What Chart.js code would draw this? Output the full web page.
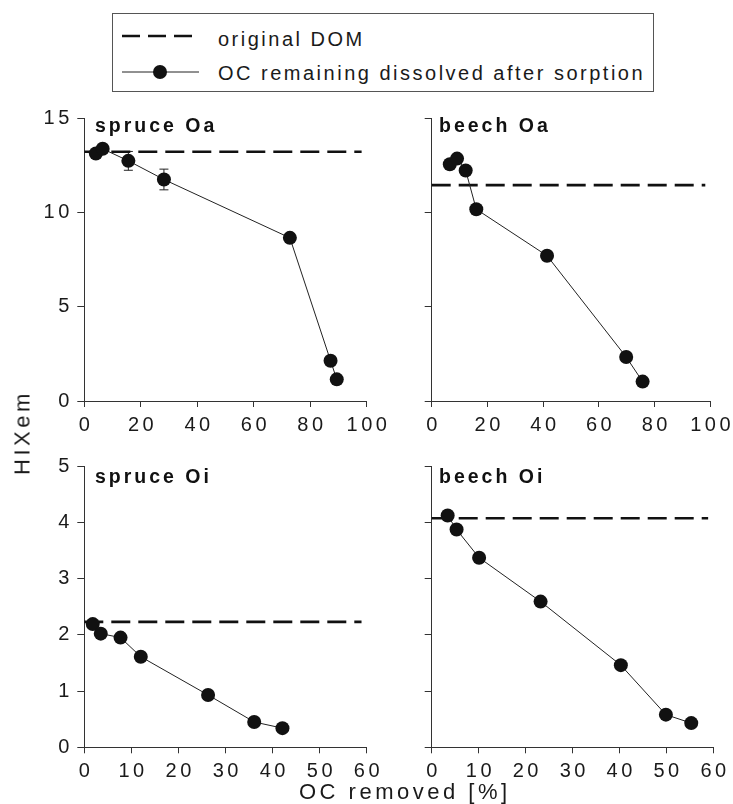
<!DOCTYPE html>
<html>
<head>
<meta charset="utf-8">
<script src="https://cdn.jsdelivr.net/npm/chart.js@4.4.1/dist/chart.umd.min.js"></script>
<style>
html,body{margin:0;padding:0;background:#fff;}
body{width:733px;height:804px;position:relative;overflow:hidden;font-family:"Liberation Sans",Arial,sans-serif;color:#1a1a1a;}
canvas.cv{position:absolute;}
.title{position:absolute;font-weight:bold;font-size:19.5px;letter-spacing:3px;line-height:1;white-space:nowrap;color:#111;}
.lbl{position:absolute;font-size:22px;letter-spacing:3.5px;line-height:1;white-space:nowrap;color:#1a1a1a;}
.legbox{position:absolute;left:112px;top:13px;width:542px;height:79px;border:1px solid #555;box-sizing:border-box;}
.legtxt{position:absolute;font-size:20px;letter-spacing:2.5px;line-height:1;white-space:nowrap;color:#1a1a1a;}
svg.leg{position:absolute;left:0;top:0;}
</style>
</head>
<body>
<div class="legbox"></div>
<svg class="leg" width="733" height="100">
  <line x1="122" y1="36" x2="192" y2="36" stroke="#111" stroke-width="2.6" stroke-dasharray="18 8"/>
  <line x1="122" y1="72" x2="199" y2="72" stroke="#222" stroke-width="1"/>
  <circle cx="160" cy="72" r="7" fill="#111"/>
</svg>
<div class="legtxt" style="left:218px;top:29px;">original DOM</div>
<div class="legtxt" style="left:218px;top:63px;">OC remaining dissolved after sorption</div>

<canvas class="cv" id="c1" width="395" height="340" style="left:0px;top:100px;"></canvas>
<canvas class="cv" id="c2" width="353" height="340" style="left:380px;top:100px;"></canvas>
<canvas class="cv" id="c3" width="395" height="340" style="left:0px;top:445px;"></canvas>
<canvas class="cv" id="c4" width="353" height="340" style="left:380px;top:445px;"></canvas>

<div class="title" style="left:95px;top:116px;">spruce Oa</div>
<div class="title" style="left:439px;top:116px;">beech Oa</div>
<div class="title" style="left:95px;top:467px;">spruce Oi</div>
<div class="title" style="left:439px;top:467px;">beech Oi</div>

<div class="lbl" style="left:299px;top:781px;">OC removed [%]</div>
<div class="lbl" style="left:0;top:0;transform-origin:0 0;transform:translate(11.5px,475px) rotate(-90deg);">HIXem</div>

<script>
// ---- data ----
const spruceOaX   = [4.1, 6.5, 15.6, 28.2, 72.8, 87.2, 89.4];
const spruceOaY   = [13.15, 13.4, 12.76, 11.77, 8.67, 2.14, 1.15];
const spruceOaErr = [0, 0, 0.5, 0.55, 0, 0, 0];
const spruceOaDOM = 13.24;

const beechOaX   = [6.5, 9.1, 12.2, 16.0, 41.4, 69.8, 75.7];
const beechOaY   = [12.58, 12.88, 12.25, 10.19, 7.72, 2.34, 1.03];
const beechOaDOM = 11.47;

const spruceOiX   = [1.8, 3.5, 7.7, 12.0, 26.3, 36.1, 42.1];
const spruceOiY   = [2.19, 2.02, 1.95, 1.61, 0.93, 0.45, 0.34];
const spruceOiDOM = 2.23;

const beechOiX   = [3.4, 5.3, 10.1, 23.2, 40.3, 49.9, 55.3];
const beechOiY   = [4.12, 3.87, 3.37, 2.59, 1.46, 0.58, 0.43];
const beechOiDOM = 4.07;

const oaXTicks = [0, 20, 40, 60, 80, 100];
const oiXTicks = [0, 10, 20, 30, 40, 50, 60];
const oaYTicks = [0, 5, 10, 15];
const oiYTicks = [0, 1, 2, 3, 4, 5];
const oaDomXRange = [0, 98.2];
const oiDomXRange = [0, 58.9];

// ---- plugins ----
const spacingPlugin = {
  id: 'spacing',
  beforeDraw(chart) { chart.ctx.letterSpacing = '3.5px'; }
};
const errorBars = {
  id: 'errorBars',
  beforeDatasetsDraw(chart, args, opts) {
    const errs = opts.errs;
    if (!errs) return;
    const ctx = chart.ctx, xs = chart.scales.x, ys = chart.scales.y;
    const pts = chart.data.datasets[0].data;
    ctx.save();
    ctx.strokeStyle = '#222';
    ctx.lineWidth = 1;
    pts.forEach((p, i) => {
      const e = errs[i];
      if (!e) return;
      const px = xs.getPixelForValue(p.x);
      const t = ys.getPixelForValue(p.y + e), b = ys.getPixelForValue(p.y - e);
      ctx.beginPath();
      ctx.moveTo(px, t); ctx.lineTo(px, b);
      ctx.moveTo(px - 4.5, t); ctx.lineTo(px + 4.5, t);
      ctx.moveTo(px - 4.5, b); ctx.lineTo(px + 4.5, b);
      ctx.stroke();
    });
    ctx.restore();
  }
};

function makePanel(id, p) {
  const pts = p.xs.map((x, i) => ({x: x, y: p.ys[i]}));
  const dom = p.domRange.map(x => ({x: x, y: p.dom}));
  new Chart(document.getElementById(id), {
    type: 'line',
    data: {
      datasets: [
        {data: pts, borderColor: '#222', borderWidth: 1, pointRadius: 7,
         pointBackgroundColor: '#111', pointBorderColor: '#111', pointBorderWidth: 0,
         order: 0, clip: false, tension: 0},
        {data: dom, borderColor: '#111', borderWidth: 2.6, borderDash: [19, 8],
         pointRadius: 0, order: 1, clip: false}
      ]
    },
    options: {
      responsive: false,
      animation: false,
      events: [],
      layout: {padding: {top: p.padTop, right: p.padRight, left: 0, bottom: 0}},
      plugins: {legend: {display: false}, tooltip: {enabled: false}, errorBars: {errs: p.errs}},
      scales: {
        x: {
          type: 'linear', min: 0, max: p.xTicks[p.xTicks.length - 1],
          afterBuildTicks: s => { s.ticks = p.xTicks.map(v => ({value: v})); },
          afterFit: s => { s.height = p.xAxisHeight; },
          grid: {drawOnChartArea: false, drawTicks: true, tickLength: 6, color: '#333', lineWidth: 1},
          border: {display: true, color: '#333', width: 1},
          ticks: {color: '#1a1a1a', font: {size: 20, family: '"Liberation Sans", Arial, sans-serif'},
                  padding: 6, maxRotation: 0, autoSkip: false, labelOffset: 1.75}
        },
        y: {
          type: 'linear', min: 0, max: p.yTicks[p.yTicks.length - 1],
          afterBuildTicks: s => { s.ticks = p.yTicks.map(v => ({value: v})); },
          afterFit: s => { s.width = p.yAxisWidth; },
          grid: {drawOnChartArea: false, drawTicks: true, tickLength: 7, color: '#333', lineWidth: 1},
          border: {display: true, color: '#333', width: 1},
          ticks: {display: p.showY, color: '#1a1a1a', font: {size: 20, family: '"Liberation Sans", Arial, sans-serif'},
                  padding: 4.5}
        }
      }
    },
    plugins: [spacingPlugin, errorBars]
  });
}

makePanel('c1', {xs: spruceOaX, ys: spruceOaY, errs: spruceOaErr, dom: spruceOaDOM, domRange: oaDomXRange,
  xTicks: oaXTicks, yTicks: oaYTicks, showY: true, yAxisWidth: 84.3, xAxisHeight: 39, padTop: 18.7, padRight: 28.3});
makePanel('c2', {xs: beechOaX, ys: beechOaY, errs: null, dom: beechOaDOM, domRange: oaDomXRange,
  xTicks: oaXTicks, yTicks: oaYTicks, showY: false, yAxisWidth: 51.7, xAxisHeight: 39, padTop: 18.7, padRight: 19.7});
makePanel('c3', {xs: spruceOiX, ys: spruceOiY, errs: null, dom: spruceOiDOM, domRange: oiDomXRange,
  xTicks: oiXTicks, yTicks: oiYTicks, showY: true, yAxisWidth: 84.3, xAxisHeight: 37.7, padTop: 21, padRight: 28.3});
makePanel('c4', {xs: beechOiX, ys: beechOiY, errs: null, dom: beechOiDOM, domRange: oiDomXRange,
  xTicks: oiXTicks, yTicks: oiYTicks, showY: false, yAxisWidth: 51.7, xAxisHeight: 37.7, padTop: 21, padRight: 19.7});
</script>
</body>
</html>
